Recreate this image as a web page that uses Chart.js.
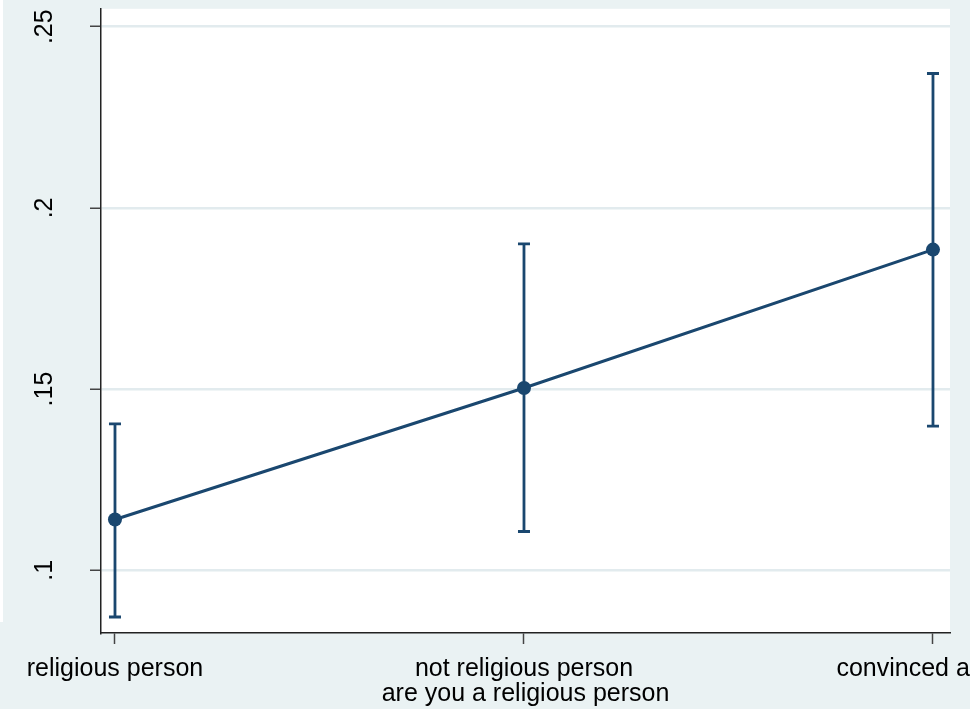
<!DOCTYPE html>
<html>
<head>
<meta charset="utf-8">
<script src="https://cdn.jsdelivr.net/npm/chart.js@4.4.1/dist/chart.umd.min.js"></script>
<style>
  html, body { margin: 0; padding: 0; background: #EAF2F3; }
  canvas { display: block; }
</style>
</head>
<body>
<canvas id="c" width="970" height="709"></canvas>
<script>
// ---- data ----
const categories = ['religious person', 'not religious person', 'convinced atheist'];
const catPos = [1, 2, 3];
const margins = [0.1140, 0.1503, 0.1885];
const ciLow = [0.0871, 0.1107, 0.1398];
const ciHigh = [0.1404, 0.1901, 0.2371];
const yTicks = [0.1, 0.15, 0.2, 0.25];
const xTitle = 'are you a religious person';

const NAVY = '#1a476f';
const FONT = "'Liberation Sans', Arial, sans-serif";

const bgPlugin = {
  id: 'bg',
  beforeDraw(chart) {
    const { ctx, chartArea: a } = chart;
    ctx.save();
    ctx.fillStyle = '#EAF2F3';
    ctx.fillRect(0, 0, chart.width, chart.height);
    ctx.fillStyle = '#ffffff';
    ctx.fillRect(0, 0, 3, 622);
    ctx.fillRect(a.left, a.top, a.right - a.left, a.bottom - a.top);
    ctx.restore();
  }
};

const datasets = [{
  data: catPos.map((x, i) => ({ x, y: margins[i] })),
  showLine: true,
  borderColor: NAVY,
  borderWidth: 3,
  pointRadius: 7,
  pointBackgroundColor: NAVY,
  pointBorderColor: NAVY,
  pointBorderWidth: 0,
  order: 0
}];
catPos.forEach((x, i) => {
  datasets.push({
    data: [{ x, y: ciLow[i] }, { x, y: ciHigh[i] }],
    showLine: true,
    borderColor: NAVY,
    borderWidth: 2.8,
    pointStyle: 'line',
    pointRadius: 6,
    pointBorderWidth: 2.8,
    pointBorderColor: NAVY,
    order: 1
  });
});

new Chart(document.getElementById('c'), {
  type: 'scatter',
  data: { datasets },
  plugins: [bgPlugin],
  options: {
    responsive: false,
    animation: false,
    layout: { padding: { left: 0, right: 20, top: 6, bottom: 0 } },
    plugins: { legend: { display: false }, tooltip: { enabled: false } },
    scales: {
      x: {
        type: 'linear',
        position: 'bottom',
        min: 0.9658,
        max: 3.0416,
        afterBuildTicks: s => { s.ticks = catPos.map(v => ({ value: v })); },
        afterFit: s => { s.height = 76; s.paddingLeft = 0; s.paddingRight = 0; },
        ticks: {
          autoSkip: false, minRotation: 0, maxRotation: 0,
          padding: 10,
          color: '#000',
          font: { family: FONT, size: 25 },
          callback: v => { const k = catPos.indexOf(v); return k >= 0 ? categories[k] : ''; }
        },
        grid: { drawOnChartArea: false, drawTicks: true, tickLength: 11, tickColor: '#444', tickWidth: 1.5 },
        border: { display: true, color: '#222', width: 1.5 },
        title: { display: true, text: xTitle, color: '#000', font: { family: FONT, size: 25 }, padding: { top: 0, bottom: 0 } }
      },
      y: {
        min: 0.08269,
        max: 0.25495,
        afterBuildTicks: s => { s.ticks = yTicks.map(v => ({ value: v })); },
        afterFit: s => { s.width = 101; s.paddingTop = 0; s.paddingBottom = 0; },
        ticks: {
          minRotation: 90, maxRotation: 90,
          crossAlign: 'center',
          padding: 28,
          color: '#000',
          font: { family: FONT, size: 25 },
          callback: v => String(v).replace(/^0\./, '.')
        },
        grid: { color: '#E2EBEE', lineWidth: 2.5, drawTicks: true, tickLength: 11, tickColor: '#444', tickWidth: 1.5 },
        border: { display: true, color: '#222', width: 1.5 }
      }
    }
  }
});
</script>
</body>
</html>
